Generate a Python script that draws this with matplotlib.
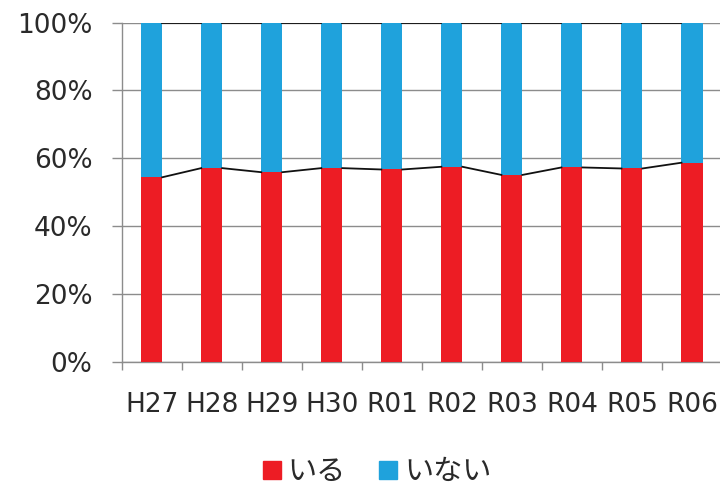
import numpy as np
import matplotlib
matplotlib.use("Agg")
from matplotlib import pyplot as plt
from matplotlib.lines import Line2D

plt.rcParams['font.family'] = ['Noto Sans CJK JP', 'DejaVu Sans']

years = ["H27", "H28", "H29", "H30", "R01", "R02", "R03", "R04", "R05", "R06"]
iru = [54.4, 57.1, 55.9, 57.1, 56.7, 57.5, 55.1, 57.3, 57.0, 58.7]
inai = [100 - v for v in iru]
series_names = ["いる", "いない"]

red = "#ED1C24"
blue = "#1FA2DC"
grid_c = "#8c8c8c"

fig = plt.figure(figsize=(7.2, 4.88), dpi=100)
ax = fig.add_axes([0.169, 0.2588, 0.8338, 0.6947])

x = np.arange(len(years))
w = 0.35
ax.bar(x, iru, width=w, color=red, zorder=3)
ax.bar(x, inai, width=w, bottom=iru, color=blue, zorder=3)

# series lines between bars
tops = np.array(iru) + np.array(inai)
for i in range(len(years) - 1):
    ax.plot([x[i] + w / 2, x[i + 1] - w / 2], [iru[i], iru[i + 1]], color="#111111", lw=1.3, zorder=4)
    ax.plot([x[i] + w / 2, x[i + 1] - w / 2], [tops[i], tops[i + 1]], color="#111111", lw=1.3, zorder=4)

ax.set_xlim(-0.5, len(years) - 0.5)
ax.set_ylim(0, 100)
ax.set_yticks(range(0, 101, 20))
ax.set_yticklabels([f"{v}%" for v in range(0, 101, 20)], family="DejaVu Sans")
ax.yaxis.grid(True, color=grid_c, lw=1.0, zorder=0)
ax.set_axisbelow(True)

ax.set_xticks(x)
ax.set_xticklabels(years, family="DejaVu Sans")
ax.set_xticks(np.arange(-0.5, len(years), 1.0), minor=True)
ax.tick_params(axis='x', which='major', length=0, labelsize=19, pad=22, colors="#2a2a2a")
ax.tick_params(axis='x', which='minor', length=6, color=grid_c, width=1)
ax.tick_params(axis='y', length=7, color=grid_c, width=1, labelsize=19, pad=14, labelcolor="#2a2a2a")

for s in ["top", "right"]:
    ax.spines[s].set_visible(False)
for s in ["left", "bottom"]:
    ax.spines[s].set_color(grid_c)
    ax.spines[s].set_linewidth(1)

handles = [Line2D([], [], marker='s', ls='', color=red, markersize=13),
           Line2D([], [], marker='s', ls='', color=blue, markersize=13)]
fig.legend(handles, series_names, loc='center', bbox_to_anchor=(0.522, 0.033),
           ncol=2, frameon=False, fontsize=21, handletextpad=0.15, columnspacing=1.05,
           handlelength=0.8, labelcolor="#2a2a2a", borderpad=0.1)

fig.savefig("out.png", dpi=100)
